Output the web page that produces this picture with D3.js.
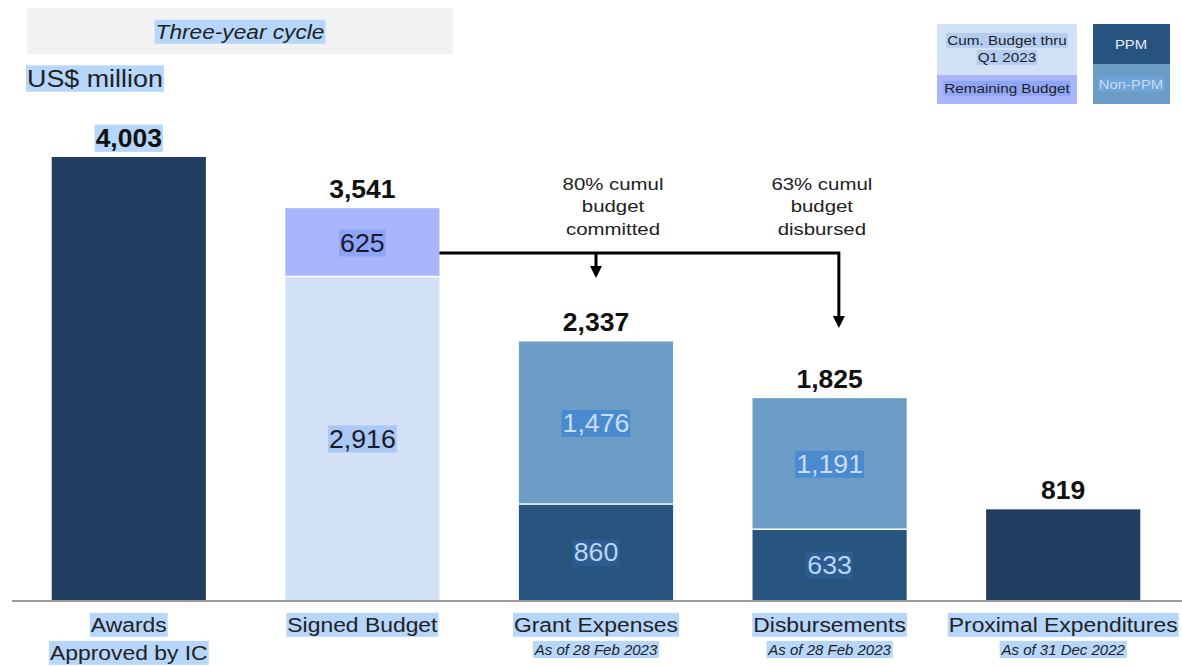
<!DOCTYPE html>
<html><head><meta charset="utf-8">
<script src="https://cdn.jsdelivr.net/npm/d3@7"></script>
<style>body{margin:0;background:#fff;font-family:"Liberation Sans",Arial,sans-serif}</style>
</head><body><svg id="c" width="1182" height="666"></svg>
<script>
const categories = ["Awards|Approved by IC","Signed Budget","Grant Expenses","Disbursements","Proximal Expenditures"];
const subtitles = ["","","As of 28 Feb 2023","As of 28 Feb 2023","As of 31 Dec 2022"];
const totals = [4003, 3541, 2337, 1825, 819];
// segments: [bottom, top] values
const baseValues = [4003, 2916, 860, 633, 819];
const topValues  = [0, 625, 1476, 1191, 0];
const annotations = ["80% cumul|budget|committed","63% cumul|budget|disbursed"];

const W=1182,H=666;
const svg=d3.select("#c");
const colNavy="#213d5f", colCum="#d2e1f6", colRem="#a9b6fb", colPPM="#27547f", colNon="#6b9dc6", hl="#b6d6fb";
const baseColors=[colNavy,colCum,colPPM,colPPM,colNavy];
const topColors=[null,colRem,colNon,colNon,null];

const x=d3.scaleBand().domain(categories).range([12,1180]).paddingInner(0.34).paddingOuter(0.17);
const y=d3.scaleLinear().domain([0,4003]).range([600,157]);

function hlText(g, xx, yy, str, opts){
  const t=g.append("text").attr("x",xx).attr("y",yy).attr("text-anchor",opts.anchor||"middle")
    .attr("font-size",opts.size).attr("font-weight",opts.weight||"normal").attr("font-style",opts.style||"normal")
    .attr("fill",opts.fill||"#111").text(str);
  if(opts.stretch) t.attr("transform",`translate(${xx},${yy}) scale(${opts.stretch},1) translate(${-xx},${-yy})`);
  if(opts.bg){
    const b=t.node().getBBox();
    const sx=opts.stretch||1;
    const w=b.width*sx, cx = opts.anchor==="start"? xx : xx - w/2;
    g.insert("rect",()=>t.node()).attr("x",cx-1).attr("y",b.y).attr("width",w+2).attr("height",b.height).attr("fill",opts.bg);
  }
  return t;
}

// title box
svg.append("rect").attr("x",27).attr("y",8).attr("width",426).attr("height",46).attr("fill","#f2f2f2");
hlText(svg,240,39,"Three-year cycle",{size:21,style:"italic",bg:hl,fill:"#222",stretch:1.08});
hlText(svg,27,87,"US$ million",{size:24,anchor:"start",bg:hl,fill:"#222",stretch:1.12});

// legend
const lg=svg.append("g");
lg.append("rect").attr("x",937).attr("y",24).attr("width",140).attr("height",51).attr("fill",colCum);
lg.append("rect").attr("x",937).attr("y",75).attr("width",140).attr("height",29).attr("fill",colRem);
hlText(lg,1007,45,"Cum. Budget thru",{size:13.5,bg:"#b3cdf0",fill:"#222",stretch:1.13});
hlText(lg,1007,62,"Q1 2023",{size:13.5,bg:"#b3cdf0",fill:"#222",stretch:1.13});
hlText(lg,1007,93,"Remaining Budget",{size:13.5,bg:"#8fa6f5",fill:"#222",stretch:1.13});
lg.append("rect").attr("x",1093).attr("y",24).attr("width",77).attr("height",40).attr("fill",colPPM);
lg.append("rect").attr("x",1093).attr("y",64).attr("width",77).attr("height",40).attr("fill",colNon);
hlText(lg,1131,49,"PPM",{size:13.5,fill:"#e8eef8",stretch:1.1});
hlText(lg,1131,89,"Non-PPM",{size:13.5,bg:"#6fa4d8",fill:"#c9ddf3",stretch:1.1});

// bars
const g=svg.append("g");
categories.forEach((c,i)=>{
  const x0=x(c), bw=x.bandwidth();
  g.append("rect").attr("x",x0).attr("y",y(baseValues[i])).attr("width",bw).attr("height",y(0)-y(baseValues[i])).attr("fill",baseColors[i]);
  if(topValues[i]>0){
    g.append("rect").attr("x",x0).attr("y",y(baseValues[i]+topValues[i])).attr("width",bw).attr("height",y(baseValues[i])-y(baseValues[i]+topValues[i])-1.5).attr("fill",topColors[i]);
  }
});

// axis baseline
svg.append("line").attr("x1",12).attr("x2",1182).attr("y1",601).attr("y2",601).attr("stroke","#9a9a9a").attr("stroke-width",2);

// inside labels
const fmt=d3.format(",");
categories.forEach((c,i)=>{
  const cx=x(c)+x.bandwidth()/2;
  if(topValues[i]>0){
    const b0=y(0), b1=y(baseValues[i]), b2=y(baseValues[i]+topValues[i]);
    const o={size:25,stretch:1.07};
    if(i===1){
      hlText(g,cx,(b1+b0)/2+9,fmt(baseValues[i]),{...o,bg:"#a9c8f5",fill:"#1a1a2a"});
      hlText(g,cx,(b2+b1)/2+9,fmt(topValues[i]),{...o,bg:"#8ea4f6",fill:"#1a1a2a"});
    } else {
      hlText(g,cx,(b1+b0)/2+9,fmt(baseValues[i]),{...o,bg:"#2d5c92",fill:"#b9d5f2"});
      hlText(g,cx,(b2+b1)/2+9,fmt(topValues[i]),{...o,bg:"#4a8bd0",fill:"#c9def5"});
    }
  }
  hlText(g,cx,y(totals[i])-10,fmt(totals[i]),{size:25,weight:"bold",bg:i===0?hl:null,fill:"#111",stretch:1.06});
  // category labels
  const parts=c.split("|");
  parts.forEach((p,j)=>hlText(g,cx,632+j*28,p,{size:21,bg:hl,fill:"#222",stretch:1.09}));
  if(subtitles[i]) hlText(g,cx,655,subtitles[i],{size:15,style:"italic",bg:hl,fill:"#222",stretch:1.0});
});

// connector arrows
const xs=x(categories[1])+x.bandwidth(), yLine=253;
const xa1=x(categories[2])+x.bandwidth()/2, xa2=x(categories[3])+x.bandwidth()*0.56;
const ar=svg.append("g").attr("stroke","#000").attr("stroke-width",3).attr("fill","none");
ar.append("path").attr("d",`M${xs},${yLine}H${xa2}V${318}`);
ar.append("path").attr("d",`M${xa1},${yLine}V${268}`);
svg.append("path").attr("d",`M${xa1-6},${266}L${xa1+6},${266}L${xa1},${278}Z`).attr("fill","#000");
svg.append("path").attr("d",`M${xa2-6},${316}L${xa2+6},${316}L${xa2},${328}Z`).attr("fill","#000");

// annotations
[[xa1+17,annotations[0]],[xa2-17,annotations[1]]].forEach(([ax,txt])=>{
  txt.split("|").forEach((p,j)=>{
    const t=svg.append("text").attr("x",ax).attr("y",190+j*22.5).attr("text-anchor","middle")
      .attr("font-size",17).attr("fill","#222").text(p);
    t.attr("transform",`translate(${ax},0) scale(1.2,1) translate(${-ax},0)`);
  });
});
</script></body></html>
